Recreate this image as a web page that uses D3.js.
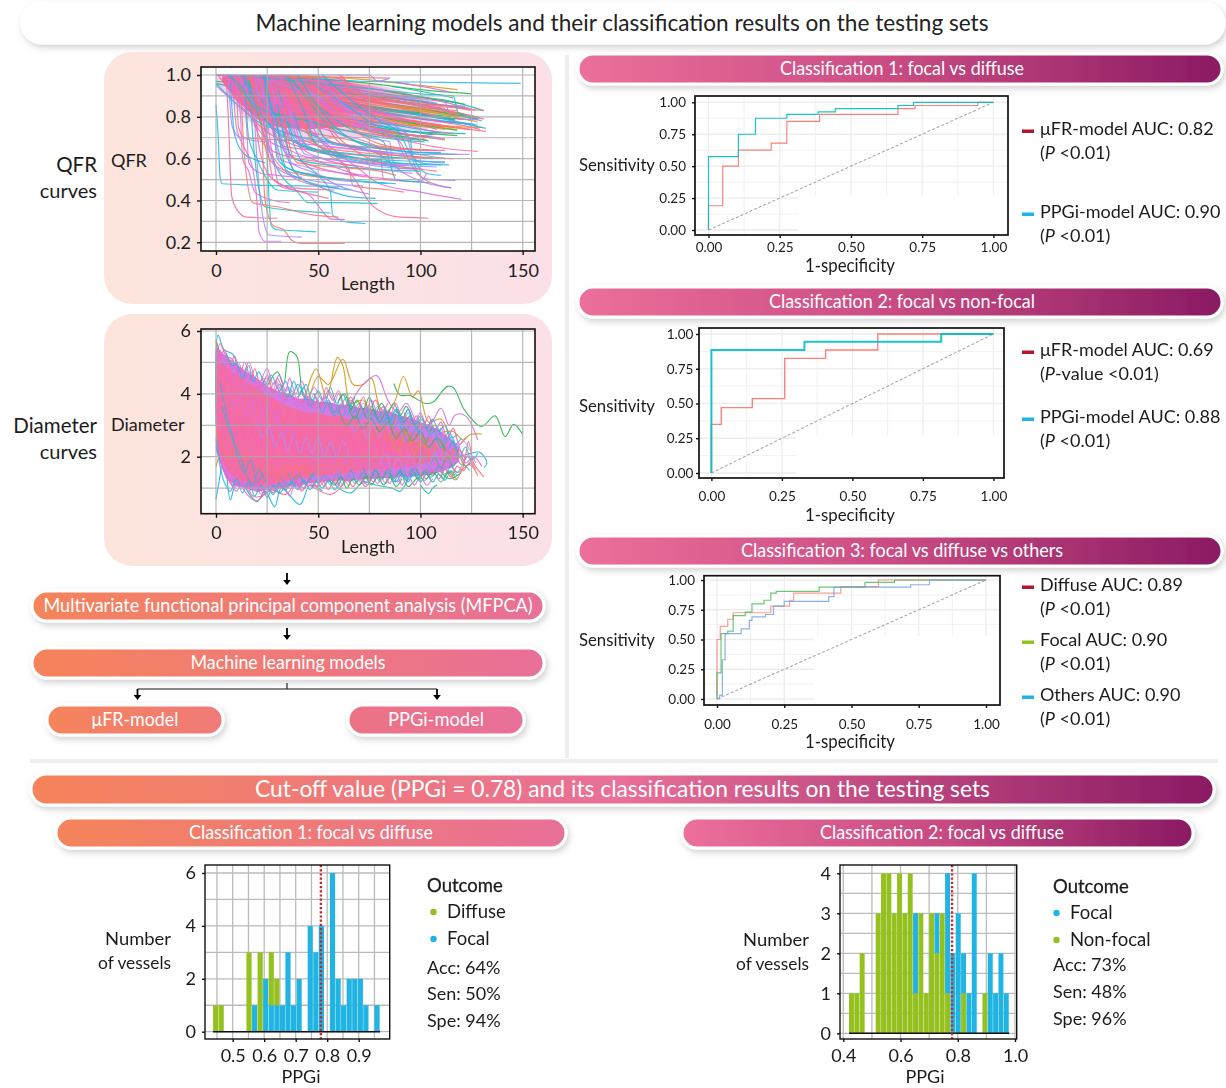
<!DOCTYPE html>
<html><head><meta charset="utf-8">
<script src="https://cdn.jsdelivr.net/npm/d3@7"></script>
<style>html,body{margin:0;padding:0;background:#fff}svg{display:block}text{font-family:Lato,"Open Sans",sans-serif;fill:#1c1c1c}</style>
</head><body><svg id="c" width="1226" height="1088"></svg>
<script>
// ---------- colours of the curve bundles
const warmHues = ["#F8766D","#D89B1E","#2DB84D","#10BFB0","#D96FE0","#22B5EA","#F5689E"];
const dropHues = ["#22B5EA","#F5689E","#D96FE0","#1ABFC9","#F8766D","#A58AFF"];
const pinkHues = ["#F5689E","#D96FE0","#FB61B7","#F8766D","#B98AF0"];
const speckHues= ["#1ABFC9","#22B5EA","#2DB84D","#D96FE0","#D89B1E"];
const edgeHues = ["#F5689E","#22B5EA","#D96FE0","#1ABFC9","#F5689E","#2DB84D","#D96FE0","#22B5EA"];
const midHues  = ["#D96FE0","#D96FE0","#F5689E","#D96FE0","#22B5EA","#1ABFC9","#2DB84D","#22B5EA","#A58AFF","#F5689E","#F5689E","#D96FE0","#22B5EA","#D96FE0","#1ABFC9","#2DB84D","#22B5EA","#D96FE0","#2DB84D"];
const outlierHues = ["#2DB84D","#2DB84D","#D89B1E","#D89B1E","#D96FE0","#D89B1E","#D96FE0","#D89B1E","#22B5EA","#10BFB0","#F8766D","#22B5EA","#F5689E","#2DB84D","#22B5EA","#22B5EA","#F5689E","#D89B1E","#F5689E","#1ABFC9","#2DB84D","#F8766D","#D96FE0"];
// ---------- QFR curves, flat x,y lists
const qfrRight = [
[0,1,60,.99,85,.985],[30,1,70,.98,100,.95,118,.93],[40,.99,75,.96,100,.93,125,.91],
[20,.98,60,.94,90,.9,112,.88,131,.83],[10,.98,50,.93,90,.87,122,.85],[25,.97,65,.92,95,.86,128,.8],
[15,.96,55,.91,85,.86,118,.83],[5,.97,45,.92,80,.87,110,.82,131,.79],[30,.95,60,.9,88,.85,122,.81],
[35,.93,70,.88,100,.84,126,.79],[20,.92,55,.88,90,.83,115,.8],[12,.93,50,.87,85,.81,122,.77],
[28,.9,60,.85,95,.8,128,.76],[18,.9,55,.84,92,.78,125,.74],[30,.88,70,.82,100,.77,132,.73],
[25,.86,60,.81,92,.76,130,.75],[20,.85,55,.79,85,.74,118,.71],[35,.84,65,.79,95,.73,122,.72],
[25,.82,60,.77,90,.72,105,.7],[15,.84,50,.78,80,.73,110,.7],[40,.8,70,.75,100,.71,108,.72],
[30,.79,60,.74,90,.7,103,.69],[50,.78,75,.73,100,.69,102,.7],[45,.9,70,.86,95,.82,116,.79],
[50,.95,75,.91,100,.87,124,.84],[60,.96,85,.92,108,.88,127,.83],[55,.93,80,.89,105,.85,130,.78],
[65,.92,85,.86,105,.81,125,.76],[70,.9,90,.84,110,.8,120,.79],[60,.88,80,.8,100,.76,118,.74],
[0,.97,18,.95,42,.93,75,.9,104,.87],[0,.96,14,.93,38,.9,70,.85,100,.82],[0,.95,6,.9,20,.87,58,.83,96,.78],
[40,.94,65,.915,90,.89,108,.865],[45,.92,68,.895,92,.865,112,.84],[50,.91,72,.875,95,.845,120,.815],
[55,.895,76,.86,98,.83,121,.80],[48,.87,70,.845,94,.815,117,.785],[58,.875,80,.84,102,.805,124,.785],
[52,.85,74,.825,96,.795,116,.77],[62,.855,84,.82,104,.785,126,.765],[56,.83,78,.805,100,.775,114,.755],
[66,.835,86,.8,106,.765,120,.75],[60,.81,82,.785,100,.755,112,.74],[70,.815,90,.78,108,.75,118,.735],
[64,.79,84,.765,100,.74,110,.725],[74,.795,92,.76,104,.735,116,.72],[68,.77,86,.75,98,.725,106,.715],
[78,.905,96,.875,114,.85,125,.83],[80,.885,98,.855,116,.825,129,.795],[76,.87,94,.84,112,.81,128,.775],
[82,.925,100,.895,112,.875,122,.86],[86,.945,104,.915,116,.89],[88,.965,104,.94,114,.92],
[90,.825,106,.8,118,.775,132,.745],[94,.805,108,.78,120,.76,129,.74],[96,.785,106,.76,112,.745],
[72,.74,88,.72,100,.705,112,.695],[78,.725,92,.705,100,.69],[84,.71,98,.695,104,.685]
];
const qfrCurves = [
[0,.857,1,.72,2,.51,3,.48,17,.474,40,.47,62,.468],
[5,.99,6,.8,7.7,.42,10,.36,15,.32,30,.315],
[8,.99,10,.75,14,.65,18,.55,20,.4,21,.25,24,.205,32,.205],
[24,.95,25.5,.5,27,.28,30,.26,40,.255,49,.25],
[22,.9,24,.4,28,.28,33,.26,37,.21,41,.195,63,.195],
[18,.95,20,.6,22,.38,26,.235,42,.225],
[30,.95,40,.62,50,.52,56,.44,57,.33,65,.295,73,.29],
[20,.95,50,.7,68,.5,76,.38,82,.34,90,.32,104,.315],
[12,.97,50,.7,70,.55,80,.48,100,.44,120,.405],
[16,.97,30,.55,40,.44,45,.39,60,.39,79,.385],
[20,.98,60,.8,90,.68,95,.58,102,.5,115,.46],
[25,.98,70,.82,93,.72,96,.6,102,.505,117,.495],
[0,1,40,.985,70,.97,110,.965,130,.962,149,.96],
[15,.98,60,.8,80,.72,100,.67,115,.645,128,.635],
[5,1,30,.98,60,.95,85,.90,105,.88,112,.87,114,.82,119,.79,128,.785],
[8,1,40,.97,70,.94,100,.91,116,.9,118.5,.82,128,.79],
[0,1,30,.99,62,.985,66,.92,85,.88,110,.85,131,.83],
[0,1,40,1,75,1,79,.97,85,.985],
[14,.99,25,.85,50,.7,80,.62,85,.58,95,.555,99,.555],
[18,.99,30,.78,50,.66,70,.6,85,.57,90,.555,101,.55],
[28,.99,40,.8,60,.72,80,.65,82,.5,100,.49,103,.53],
[35,.99,50,.85,70,.72,82,.68,85,.58,88,.5,104,.485],
[32,.98,45,.72,55,.62,65,.55,67,.47,85,.45,92,.44],
[26,.98,34,.7,38,.54,50,.52,60,.47,75,.43],
[24,.98,33,.65,40,.52,52,.46,65,.42,78,.41],
[15,.99,18,.8,27,.62,35,.53,45,.48,60,.46],
[12,.99,15,.75,16,.58,22,.53,30,.52,42,.51],
[14,.98,16,.7,20,.6,25,.5,30,.45,50,.44],
[10,.98,11,.75,14,.7,30,.69,55,.68],
[6,.98,8,.75,12,.7,25,.68],
[7,.96,9,.72,14,.62,18,.6,24,.58],
[20,.99,26,.6,28,.5,38,.46,58,.45],
[22,.99,28,.6,31,.47,45,.43,57,.31,63,.31],
[16,.98,19,.6,24,.37,40,.35,56,.34],
[12,.97,14,.6,18,.39,30,.37,48,.33,60,.32],
[40,.97,55,.85,75,.7,85,.68,86,.6,92,.53,115,.46],
[45,.97,60,.88,80,.75,95,.7,96,.62,103,.53,110,.52],
[60,1,63,.98,65,.9,80,.82,95,.78,108,.74],
[5,1,25,.89,55,.8,80,.74,98,.71,112,.69],
[7,1,20,.85,45,.78,70,.72,90,.69,102,.68],
[9,1,22,.8,40,.74,65,.69,80,.66,108,.64],
[11,1,24,.78,42,.7,70,.65,90,.62,105,.6],
[13,1,26,.76,38,.68,60,.62,85,.58,110,.57],
[58,.99,72,.9,78,.75,90,.72,109,.7],
[48,.98,66,.8,75,.73,86,.7,100,.69],
[38,.98,55,.76,70,.68,88,.64,112,.6],
[42,.96,60,.7,75,.6,92,.56,108,.54],
[28,.97,40,.7,56,.62,70,.58,82,.56,97,.55],
[0,.96,8,.88,20,.78,35,.72,60,.67,85,.62],
[1,1,7,.92,15,.82,26,.72,40,.66,56,.62,78,.58],
[3,1,9,.95,17,.8,24,.7,36,.64,52,.58,70,.52],
[5,1,11,.96,19,.84,29,.74,44,.66,64,.6,88,.56],
[16,1,22,.78,25,.62,30,.56,44,.52,66,.5],
[19,1,24,.74,28,.58,34,.53,50,.49,72,.47],
[23,1,28,.76,30,.6,36,.55,54,.51,84,.48],
[27,1,33,.78,36,.62,46,.57,62,.53,90,.5],
[31,1,38,.8,42,.65,52,.6,72,.56,96,.53],
[34,1,44,.8,48,.68,60,.62,80,.59,101,.57],
[37,1,48,.82,53,.7,68,.65,84,.62,106,.6],
[20,1,32,.7,37,.58,46,.54,58,.5,70,.49],
[24,1,30,.66,34,.55,42,.5,52,.47,66,.45],
[18,1,21,.66,26,.52,33,.47,46,.43,55,.41],
[9,1,12,.8,13,.6,16,.54,19,.44,28,.4,36,.39],
[40,1,52,.82,62,.72,74,.66,98,.63,118,.62],
[44,1,58,.84,70,.72,84,.66,104,.64],
[50,1,62,.86,72,.76,88,.7,93,.6,112,.58],
[52,1,66,.88,80,.78,90,.72,94,.64,100,.58,114,.57],
[25,.9,29,.72,33,.66,48,.64,66,.62,90,.6],
[28,.88,31,.7,35,.62,52,.6,70,.58,94,.57],
[30,.86,34,.68,38,.6,55,.57,76,.55,100,.54],
[33,.84,36,.66,40,.58,58,.56,80,.54,88,.52],
[36,.83,40,.68,44,.62,62,.59,86,.57,108,.56],
[38,.82,42,.7,46,.64,64,.61,90,.59,112,.585],
[22,.86,25,.7,27,.64,40,.6,56,.58,72,.56],
[26,.84,29,.67,31,.6,44,.56,62,.53,74,.52],
[29,.82,32,.64,34,.56,48,.52,64,.5,88,.48],
[42,.8,46,.7,50,.66,70,.63,96,.61,116,.6],
[46,.79,50,.7,54,.66,74,.64,100,.62,124,.62],
[48,.78,53,.7,58,.67,78,.65,102,.63,110,.63],
[54,.77,58,.7,62,.67,82,.65,104,.64,112,.64],
[32,.8,35,.72,38,.68,54,.66,72,.64,84,.63],
[35,.78,38,.7,42,.66,60,.63,82,.61,96,.6]
];
const qfrCoreTop= [[0,1],[10,1],[30,1],[50,.995],[70,.97],[90,.93],[110,.86]];
const qfrCoreLow= [[0,.96],[5,.9],[10,.84],[20,.74],[30,.7],[50,.69],[70,.7],[90,.71],[110,.76]];
const qfrPinkTop= [[3,1],[30,1],[50,.985],[75,.95],[100,.9]];
const qfrPinkLow= [[3,.97],[10,.88],[20,.79],[30,.75],[45,.74],[60,.75],[80,.76],[100,.78]];
// ---------- density outlines of the diameter bundle
const diaPurpleTop=[[0,5.5],[5,5.2],[10,4.95],[15,4.7],[20,4.5],[25,4.25],[30,4.1],[35,4.0],[40,3.85],[45,3.85],[50,3.75],[55,3.75],[60,3.65],[65,3.65],[70,3.55],[75,3.55],[80,3.45],[85,3.45],[90,3.3],[95,3.25],[100,3.1],[105,3.0],[110,2.8],[115,2.55],[119,2.3]];
const diaPurpleLow=[[0,2.2],[3,1.6],[5,1.3],[10,1.05],[15,1.0],[20,.88],[25,.95],[30,.95],[35,1.05],[40,1.05],[45,1.15],[50,1.2],[55,1.2],[60,1.25],[65,1.22],[70,1.28],[75,1.28],[80,1.32],[85,1.32],[90,1.37],[95,1.35],[100,1.4],[105,1.42],[110,1.52],[115,1.65],[119,1.85]];
const diaPinkTop=[[0,5.2],[5,4.9],[10,4.6],[15,4.35],[20,4.2],[25,3.95],[30,3.8],[35,3.6],[40,3.5],[45,3.4],[50,3.4],[55,3.3],[60,3.3],[65,3.2],[70,3.15],[75,3.1],[80,3.0],[85,2.95],[90,2.9],[95,2.8],[100,2.7],[105,2.55]];
const diaPinkLow=[[0,2.5],[3,1.9],[5,1.6],[10,1.3],[15,1.2],[20,1.05],[25,1.12],[30,1.15],[35,1.25],[40,1.3],[45,1.38],[50,1.4],[55,1.42],[60,1.45],[65,1.52],[70,1.55],[75,1.58],[80,1.6],[85,1.62],[90,1.65],[95,1.7],[100,1.75],[105,1.85]];
// ---------- diameter curves, flat x,y lists
const diaOutliers = [
[87,4.33,90,3.96,95,3.95,102,3.7,106,3.73,113,4.23,116,4.2,121,3.54,125,3.2,130,2.96,136.5,3.3,141.4,2.64,145.5,3.03,150,2.71],
[24,4.1,30,4.7,33,4.3,36,5.34,39.5,5.2,43,3.9,47,3.8],
[42,3.5,49,4.8,54,3.9,59.4,5.16,62,4.9,66,3.7,72,3.8,75,3.2],
[44,3.4,50,4.55,55,4.3,62,5.1,67,4.3,72,4.3,76,4.5,80,3.6,88,3.0],
[65,3.6,72,4.3,78.6,4.58,84,3.8,89,3.4,93,3.7,98,3.0],
[80,3.2,87,3.7,91.7,4.55,96,3.9,99,4.1,104,3.1,110,3.2,114,2.6],
[95,3.2,104,3.0,110,3.54,114,3.0,117,3.33,122,3.3,128,2.53],
[105,2.6,112,2.8,116,2.8,121,2.53,124,2.7,130,2.72],
[105,2.3,112,2.2,118,2.0,124,2.1,129,2.14,132.5,1.8,131,1.65],
[100,1.1,104,.83,106,1.0,108,1.1],
[108,1.8,114,1.5,117,1.26,121,1.7,123.5,2.48,126,1.8,131,1.36],
[0,3,1,5.87,4,5.4,8.5,5.24,12,4.2,18,3.2],
[0,4,2,5.6,5,5.2,8,5.1,12,4.4,16,5.0,20,4.0],
[0,5.7,1,5.5,4,4.6,8,3.2,12,2.2],
[0,.65,2,1.4,4,2.2,7,.62,10,1.2,14,1.0],
[12,1.3,20,.57,24,.9,28.7,.41,32,1.0,41,.48,46,1.1,52,.9],
[8,2.0,14,.9,20,.6,26,.95,34,.8,40,1.2,56,.8,62,1.1],
[0,1.68,3,2.2,5,1.9,10,2.9],
[0,2.3,4,1.6,8,1.1,12,1.6,18,.75,24,.8,30,1.3],
[55,1.4,60,1.0,66,.85,72,1.2,78,1.1,86,1.0,90,.9,94,1.3],
[90,1.7,94,1.05,98,1.3,103,1.5,108,1.6,114,1.3,120,1.5],
[100,2.0,106,1.6,112,1.9,118,1.5,124,1.75,128,1.4],
[100,2.8,106,2.4,110,2.9,114,2.1,118,2.4,122,1.8,126,2.0,130,1.7]
];
const diaEdges = [
[0,5.7,2,5.1,4,5.4,7,4.9,9,5.2,12,4.7,14,5.0,17,4.5,19,4.8,22,4.2,25,4.6,28,4.1,30,4.5,33,4.0],
[5,5.3,8,4.9,10,5.0,13,4.5,16,4.9,18,4.4,21,4.7,24,4.3,27,4.6,31,4.1,34,4.4,37,3.9,40,4.3,44,3.8],
[22,4.4,25,4.8,28,4.3,31,4.6,34,4.1,36,4.5,39,4.0,42,4.4,45,3.9,48,4.2,52,3.8,55,4.1,58,3.7],
[32,4.3,35,3.9,38,4.4,41,4.0,44,4.3,47,3.8,50,4.1,53,3.7,56,4.2,59,3.7,62,4.0,65,3.6,68,3.9],
[48,4.0,51,3.6,54,4.2,57,3.8,60,4.1,63,3.6,66,3.9,69,3.5,72,3.9,75,3.5,78,3.8,81,3.4,84,3.7],
[60,3.8,63,4.0,66,3.5,69,3.8,72,3.5,75,3.9,78,3.4,81,3.7,84,3.4,87,3.7,90,3.3,93,3.6,96,3.2],
[70,3.7,73,3.4,76,3.8,79,3.4,82,3.6,85,3.3,88,3.7,91,3.2,94,3.5,97,3.1,100,3.4,103,3.0,106,3.2],
[82,3.6,85,3.2,88,3.5,91,3.2,94,3.5,97,3.0,100,3.3,103,2.9,106,3.2,109,2.8,112,3.0,115,2.6,118,2.7],
[92,3.4,95,3.0,98,3.3,101,2.9,104,3.3,107,2.8,110,3.1,113,2.6,116,2.9,119,2.4,122,2.6],
[0,2.6,2,1.7,4,1.2,7,.9,10,1.3,13,.85,16,1.2,19,.75,22,1.1,25,.7,28,1.1,31,.85,34,1.1],
[4,1.6,7,1.2,10,.9,13,1.2,16,.9,19,1.15,22,.8,25,1.05,28,.85,32,1.2,36,.75,39,1.15,42,.9,45,1.2],
[25,1.1,28,.8,31,1.15,34,.95,37,1.2,40,.95,43,1.25,46,.95,49,1.2,52,1.0,55,1.25,58,.95,61,1.2],
[40,1.25,43,1.0,46,1.3,49,1.05,52,1.25,55,.95,58,1.3,61,1.05,64,1.3,67,1.05,70,1.3,73,1.05,76,1.3],
[55,1.3,58,1.1,61,1.35,64,1.0,67,1.3,70,1.1,73,1.35,76,1.1,79,1.35,82,1.1,85,1.35,88,1.05,91,1.3],
[70,1.4,73,1.15,76,1.4,79,1.15,82,1.4,85,1.15,88,1.45,91,1.1,94,1.4,97,1.1,100,1.35,103,1.1,106,1.3],
[85,1.45,88,1.2,91,1.45,94,1.2,97,1.5,100,1.2,103,1.45,106,1.2,109,1.45,112,1.25,115,1.55,118,1.4],
[100,1.5,103,1.3,106,1.55,109,1.3,112,1.6,115,1.35,118,1.7,121,1.55,124,1.8,127,1.6],
[110,2.5,113,2.2,116,2.5,119,2.0,122,2.3,125,1.9,128,2.1],
[108,1.7,111,2.0,114,1.7,117,2.0,120,1.75,123,2.0,126,1.7]
];
const diaMid = [
[0,5.2,3,4.9,6,5.1,9,4.6,12,4.8,15,4.3,18,4.6,21,4.1,24,4.4,27,3.9,30,4.2,33,3.7,36,4.0,40,3.6,44,3.9,48,3.4],
[2,5.4,5,5.0,8,4.8,11,5.0,14,4.5,17,4.7,20,4.2,23,4.5,26,4.1,29,4.4,32,3.9,35,4.2,38,3.8,42,4.0,46,3.6,50,3.8],
[10,4.8,13,4.4,16,4.6,19,4.0,22,4.3,25,4.5,28,4.0,31,4.3,34,3.8,37,4.1,41,3.7,45,3.9,49,3.5,53,3.9,57,3.4,61,3.7],
[30,4.4,33,4.0,36,4.2,39,3.7,42,4.1,45,3.6,48,4.0,51,3.5,54,3.9,57,3.6,60,4.0,63,3.5,66,3.8,69,3.4,72,3.7,75,3.3],
[40,3.9,43,4.2,46,3.6,49,3.9,52,3.4,55,3.8,58,3.4,61,3.9,64,3.3,67,3.7,70,3.2,73,3.6,76,3.2,79,3.6,82,3.1,85,3.5],
[55,3.7,58,3.3,61,3.6,64,3.9,67,3.4,70,3.7,73,3.3,76,3.6,79,3.2,82,3.5,85,3.1,88,3.5,91,3.0,94,3.4,97,3.0,100,3.2],
[65,3.5,68,3.2,71,3.6,74,3.2,77,3.5,80,3.1,83,3.4,86,3.0,89,3.5,92,3.1,95,3.3,98,2.9,101,3.2,104,2.8,107,3.0,110,2.7],
[78,3.3,81,3.0,84,3.3,87,2.9,90,3.2,93,2.8,96,3.2,99,2.8,102,3.0,105,2.7,108,2.9,111,2.5,114,2.8,117,2.4,120,2.6],
[85,3.1,88,2.7,91,3.1,94,2.7,97,3.0,100,2.6,103,2.9,106,2.5,109,2.8,112,2.4,115,2.7,118,2.3,121,2.5,124,2.2],
[0,2.5,3,1.7,6,1.3,9,1.0,12,1.4,15,1.0,18,1.3,21,.9,24,1.25,27,.95,30,1.3,33,.95,36,1.3,40,1.0,44,1.35,48,1.0],
[5,1.8,8,1.3,11,1.1,14,1.4,17,.95,20,1.25,23,.85,26,1.2,29,.9,32,1.2,35,1.0,38,1.3,42,.95,46,1.3,50,1.05,54,1.35],
[20,1.4,23,1.0,26,1.3,29,1.05,32,1.4,35,1.05,38,1.35,41,1.0,44,1.35,47,1.05,50,1.3,53,1.05,56,1.35,59,1.1,62,1.3,65,1.05],
[35,1.5,38,1.15,41,1.4,44,1.1,47,1.45,50,1.15,53,1.4,56,1.1,59,1.45,62,1.1,65,1.4,68,1.15,71,1.4,74,1.1,77,1.4,80,1.2],
[50,1.55,53,1.2,56,1.5,59,1.15,62,1.45,65,1.2,68,1.5,71,1.15,74,1.45,77,1.2,80,1.45,83,1.15,86,1.4,89,1.2,92,1.45,95,1.2],
[60,1.6,63,1.25,66,1.55,69,1.2,72,1.5,75,1.25,78,1.55,81,1.25,84,1.5,87,1.2,90,1.5,93,1.25,96,1.45,99,1.3,102,1.5,105,1.25],
[72,1.65,75,1.3,78,1.6,81,1.3,84,1.6,87,1.3,90,1.55,93,1.3,96,1.6,99,1.25,102,1.55,105,1.35,108,1.5,111,1.3,114,1.55,117,1.4],
[85,1.7,88,1.35,91,1.65,94,1.3,97,1.65,100,1.35,103,1.6,106,1.4,109,1.7,112,1.45,115,1.7,118,1.5,121,1.75,124,1.55],
[100,2.4,103,2.1,106,2.5,109,2.1,112,2.4,115,2.0,118,2.2,121,1.9,124,2.1,127,1.8],
[98,1.8,101,2.1,104,1.7,107,2.0,110,1.6,113,2.0,116,1.7,119,2.0,122,1.7,125,1.9]
];
const diaBlob = [
[0,4.6,3,4.2,6,4.5,9,3.9,12,4.2,15,3.7,18,4.0,21,3.5,24,3.8,27,3.3,30,3.6,33,3.1,36,3.4,39,3.0,42,3.3,45,2.9],
[0,5.3,2,4.9,4,5.0,6,4.4,8,4.6,11,4.0,14,4.3,17,3.6,20,3.9,23,3.4,26,3.7,29,3.2,32,3.5],
[0,3.6,3,3.0,6,3.5,9,2.6,12,3.1,15,2.4,18,2.9,21,2.2,24,2.7,27,2.0,30,2.6,33,2.0,36,2.5,39,1.9,42,2.4,45,1.9],
[0,3.0,3,2.4,6,1.9,9,2.3,12,1.6,15,2.1,18,1.4,21,1.8,24,1.3,27,1.7,30,1.2,33,1.7,36,1.3,39,1.8,42,1.35,45,1.8],
[20,3.1,23,2.6,26,3.0,29,2.3,32,2.8,35,2.2,38,2.7,41,2.1,44,2.6,47,2.1,50,2.6,53,2.0,56,2.5,59,2.0,62,2.5,65,2.0],
[40,3.4,43,2.9,46,3.3,49,2.7,52,3.2,55,2.6,58,3.1,61,2.6,64,3.0,67,2.5,70,2.9,73,2.4,76,2.9,79,2.3,82,2.8,85,2.3],
[45,2.2,48,1.7,51,2.2,54,1.6,57,2.1,60,1.55,63,2.0,66,1.6,69,2.1,72,1.55,75,2.0,78,1.6,81,2.0,84,1.6,87,2.1,90,1.6],
[60,2.6,63,2.2,66,2.6,69,2.0,72,2.5,75,2.0,78,2.5,81,1.9,84,2.4,87,2.0,90,2.5,93,1.9,96,2.4,99,2.0,102,2.3,105,2.0],
[75,3.0,78,2.6,81,3.0,84,2.5,87,2.9,90,2.4,93,2.9,96,2.4,99,2.7,102,2.3,105,2.6,108,2.2,111,2.5,114,2.1,117,2.3],
[80,1.7,83,2.1,86,1.6,89,2.0,92,1.6,95,2.1,98,1.7,101,2.1,104,1.7,107,2.1,110,1.8,113,2.1,116,1.8,119,2.0],
[10,3.4,13,2.8,16,3.3,19,2.6,22,3.1,25,2.5,28,3.0,31,2.4,34,2.9,37,2.3,40,2.8,43,2.3,46,2.7],
[6,4.2,9,3.6,12,3.9,15,3.2,18,3.6,21,2.9,24,3.4,27,2.7,30,3.2,33,2.6,36,3.0,39,2.5],
[3,2.1,6,1.6,9,1.4,12,1.9,15,1.25,18,1.6,21,1.15,24,1.5,27,1.1,30,1.55,33,1.15,36,1.6,39,1.2,42,1.6],
[30,1.6,33,1.25,36,1.7,39,1.3,42,1.7,45,1.35,48,1.8,51,1.4,54,1.8,57,1.45,60,1.85,63,1.45,66,1.8,69,1.45],
[65,3.2,68,2.8,71,3.1,74,2.6,77,3.0,80,2.6,83,3.1,86,2.6,89,3.0,92,2.5,95,2.9,98,2.5,101,2.8,104,2.4,107,2.7,110,2.3],
[95,2.2,98,1.8,101,2.3,104,1.9,107,2.4,110,1.9,113,2.3,116,1.9,119,2.2,122,1.9]
];
const diaSpeck = [
[3,3.6,6,2.9,9,2.4,12,2.0,15,1.4,18,1.1,21,1.6,24,1.2],
[2,4.4,5,3.4,8,2.7,11,1.9,14,1.5,17,1.9,20,1.2,23,1.5],
[60,3.5,64,3.0,68,3.3,72,2.9,76,3.2,80,2.8,84,3.1,88,2.6,92,2.9,96,2.5,100,2.8,104,2.3,108,2.6,112,2.2],
[55,1.25,59,1.6,63,1.3,67,1.65,71,1.3,75,1.7,79,1.35,83,1.75,87,1.4,91,1.7,95,1.4,99,1.75,103,1.45,107,1.8,111,1.45],
[85,2.7,89,2.2,93,2.8,97,2.1,101,2.6,105,2.0,109,2.5,113,1.9,117,2.2,121,1.7],
[90,3.0,94,2.5,98,2.9,102,2.4,106,2.9,110,2.3,114,2.6,118,2.1],
[32,1.3,36,1.1,40,1.45,44,1.15,48,1.5],
[98,1.6,102,1.25,106,1.5,110,1.2,114,1.5,118,1.25]
];
// ---------- ROC step curves: [1-specificity, sensitivity] corners
const roc1Fr = [[0,0],[0,.19],[.05,.5],[.105,.625],[.22,.68],[.275,.85],[.39,.905],[.665,.95],[.725,.975],[.945,1],[1,1]];
const roc1Pp = [[0,0],[0,.575],[.105,.75],[.165,.875],[.275,.905],[.385,.925],[.445,.95],[.665,.975],[.72,1],[1,1]];
const roc2Fr = [[0,0],[0,.35],[.035,.47],[.145,.535],[.26,.825],[.405,.885],[.59,1],[1,1]];
const roc2Pp = [[0,0],[0,.885],[.33,.945],[.815,1],[1,1]];
const roc3Di = [[0,0],[0,.5],[.012,.61],[.04,.67],[.06,.725],[.2,.78],[.27,.83],[.285,.89],[.46,.945],[.6,1],[1,1]];
const roc3Fo = [[0,0],[0,.22],[.015,.55],[.04,.57],[.06,.7],[.105,.73],[.13,.8],[.175,.83],[.2,.89],[.22,.905],[.38,.94],[.55,.98],[.66,1],[1,1]];
const roc3Ot = [[0,0],[.01,.03],[.02,.33],[.03,.55],[.09,.59],[.12,.66],[.13,.69],[.18,.71],[.21,.78],[.25,.82],[.415,.86],[.435,.94],[.72,.96],[.79,1],[1,1]];
const rocTicks = [0,.25,.5,.75,1];
// ---------- histogram counts per bin
const hist1Diffuse = [1,1,0,0,0,0,3,0,3,0,2,1,0,0,0,0,0,0,0,0,0,0,0,0,0,0,0,0,0,0];
const hist1Focal   = [0,0,0,0,0,0,0,1,0,2,1,1,1,3,1,2,0,4,3,4,0,6,2,1,2,2,2,1,0,1];
const hist2Focal   = [0,0,0,0,0,0,0,0,0,0,0,0,2,0,0,0,1,0,3,2,3,1,1,4,0,0,2,1,2,1];
const hist2Other   = [1,1,2,0,0,3,4,4,3,4,3,4,1,3,1,3,2,3,1,0,0,1,0,0,0,1,0,0,0,0];
const cutOff = 0.78;

const svg = d3.select("#c");
const defs = svg.append("defs");
const f = defs.append("filter").attr("id","sh").attr("x","-5%").attr("y","-30%").attr("width","110%").attr("height","170%");
f.append("feDropShadow").attr("dx",2).attr("dy",3).attr("stdDeviation",3).attr("flood-color","#000").attr("flood-opacity",.18);
const blur = defs.append("filter").attr("id","soft").attr("x","-5%").attr("y","-5%").attr("width","110%").attr("height","110%");
blur.append("feGaussianBlur").attr("stdDeviation",.45);
const fade = defs.append("linearGradient").attr("id","fadePink");
[[0,1],[.55,.95],[.8,.45],[1,0]].forEach(([o,a])=>fade.append("stop").attr("offset",o).attr("stop-color","#f5689e").attr("stop-opacity",a));

function grad(id,stops){
  const g=defs.append("linearGradient").attr("id",id);
  stops.forEach((c,i)=>g.append("stop").attr("offset",i/(stops.length-1)).attr("stop-color",c));
  return `url(#${id})`;
}
const OR="#f5845a",PK="#e96f98",PU="#8a1a63";
function txt(x,y,s,o={}){
  const t=svg.append("text").attr("x",x).attr("y",y).attr("font-size",o.size||18)
    .attr("text-anchor",o.anchor||"start").style("fill",o.fill||"#1c1c1c");
  if(o.len) t.attr("textLength",o.len).attr("lengthAdjust","spacingAndGlyphs");
  t.text(s);
  return t;
}
function pill(x,y,w,h,fill,s,o={}){
  svg.append("rect").attr("x",x).attr("y",y).attr("width",w).attr("height",h).attr("rx",h/2)
    .attr("fill",fill).attr("stroke",o.stroke||"#fff").attr("stroke-width",3).attr("filter","url(#sh)");
  txt(x+w/2+(o.dx||0),y+h/2+(o.size||19)*.34,s,{size:o.size||19,anchor:"middle",fill:o.fill||"#fff",len:o.len});
}
// separators
svg.append("rect").attr("x",565).attr("y",55).attr("width",4).attr("height",703).attr("fill","#efefef");
svg.append("rect").attr("x",30).attr("y",759).attr("width",1188).attr("height",4).attr("fill","#efefef");
// pills
pill(22,3,1202,40,"#fff","Machine learning models and their classification results on the testing sets",{fill:"#222",size:23,len:733,dx:-1});
const gRight=grad("gr",["#ec6f9c","#c94b82","#8a1a63"]);
pill(578,54,644,30,gRight,"Classification 1: focal vs diffuse",{len:244,dx:2});
pill(578,287,644,30,gRight,"Classification 2: focal vs non-focal",{len:266,dx:2});
pill(578,536,644,30,gRight,"Classification 3: focal vs diffuse vs others",{len:322,dx:2});
const gLeft=grad("gl",[OR,PK]);
pill(32,591,512,30,gLeft,"Multivariate functional principal component analysis (MFPCA)",{len:489,size:18.5});
pill(32,648,512,30,gLeft,"Machine learning models",{len:195,size:18.5});
pill(47,705,176,30,grad("g3",[OR,"#f07a78"]),"μFR-model",{len:87,size:18.5});
pill(348,705,176,30,grad("g4",["#ec7385",PK]),"PPGi-model",{len:96,size:18.5});
pill(31,774,1183,31,grad("g5",[OR,PK,PU]),"Cut-off value (PPGi = 0.78) and its classification results on the testing sets",{len:735,size:23});
pill(56,818,510,30,gLeft,"Classification 1: focal vs diffuse",{len:244});
pill(682,818,511,30,gRight,"Classification 2: focal vs diffuse",{len:244,dx:4.5});
// arrows
function arrow(x,y1,y2){
  svg.append("path").attr("d",d3.line()([[x,y1],[x,y2-5]])).attr("stroke","#000").attr("stroke-width",1.8);
  svg.append("path").attr("d",d3.line()([[x-3.8,y2-5],[x+3.8,y2-5],[x,y2]])+"Z").attr("fill","#000");
}
arrow(287,573,585);arrow(287,628,640);arrow(137.5,689,700);arrow(437,689,700);
svg.append("path").attr("d","M287 683V689M137.5 689H437").attr("fill","none").attr("stroke","#111").attr("stroke-width",1.1);
// curve panels
const gp=grad("gp",["#fde5dd","#fbe0e7"]);
[[52],[314]].forEach(([y])=>svg.append("rect").attr("x",104).attr("y",y).attr("width",448).attr("height",252).attr("rx",28).attr("fill",gp));
txt(97,172,"QFR",{size:20.5,anchor:"end"});txt(97,198,"curves",{size:20,anchor:"end"});
txt(97,433,"Diameter",{size:20.5,anchor:"end"});txt(97,459,"curves",{size:20,anchor:"end"});
txt(111,167,"QFR",{size:18});txt(111,431,"Diameter",{size:18});

function frame(g,x0,y0,x1,y1,w){
  g.append("rect").attr("x",x0).attr("y",y0).attr("width",x1-x0).attr("height",y1-y0).attr("fill","none").attr("stroke","#111").attr("stroke-width",w||1.6);
}
function axes(g,x,y,xt,yt,bottom,left,o){
  const xa=g.append("g").attr("transform",`translate(0,${bottom})`).call(d3.axisBottom(x).tickValues(xt).tickSize(o.ts).tickPadding(o.xp).tickFormat(o.xf));
  const ya=g.append("g").attr("transform",`translate(${left},0)`).call(d3.axisLeft(y).tickValues(yt).tickSize(o.ts).tickPadding(o.yp).tickFormat(o.yf));
  [xa,ya].forEach(a=>{a.select(".domain").remove();a.selectAll("text").attr("font-size",o.fs).style("font-family","Lato").style("fill","#1c1c1c");
    a.selectAll("line").attr("stroke","#111").attr("stroke-width",o.tw||1.4);});
}
function curvePlot(o){
  const g=svg.append("g");
  g.append("rect").attr("x",o.x0).attr("y",o.y0).attr("width",o.x1-o.x0).attr("height",o.y1-o.y0).attr("fill","#fff");
  const x=d3.scaleLinear().domain([0,150]).range(o.xr), y=d3.scaleLinear().domain(o.yd).range(o.yr);
  const layer=g.append("g").attr("filter","url(#soft)");
  o.layers.forEach(l=>{
    if(l.top){
      const ring=l.top.concat(l.low.slice().reverse());
      layer.append("path").attr("d",d3.line().x(d=>x(d[0])).y(d=>y(d[1])).curve(d3.curveLinearClosed)(ring))
        .attr("fill",l.color).attr("opacity",l.op);
    } else l.data.forEach((c,i)=>{
      const pts=d3.pairs(c).filter((_,k)=>k%2===0);
      layer.append("path").attr("d",d3.line().x(d=>x(d[0])).y(d=>y(d[1])).curve(o.curve)(pts))
        .attr("fill","none").attr("stroke",l.hues[i%l.hues.length]).attr("stroke-width",o.lw).attr("opacity",l.op);
    });
  });
  const grid=g.append("g").attr("stroke","#aaa").attr("opacity",.85);
  o.vg.forEach(v=>grid.append("path").attr("d",d3.line()([[x(v),o.y0],[x(v),o.y1]])).attr("stroke-width",1.2));
  o.hg.forEach(v=>grid.append("path").attr("d",d3.line()([[o.x0,y(v)],[o.x1,y(v)]])).attr("stroke-width",1.2));
  frame(g,o.x0,o.y0,o.x1,o.y1);
  axes(g,x,y,[0,50,100,150],o.yt,o.y1,o.x0,{ts:4,xp:9,yp:6,fs:18,xf:d3.format("d"),yf:o.yf});
  txt(368,o.y1+39,"Length",{size:18,anchor:"middle"});
}
const xGrid=[0,25,50,75,100,125,150];
curvePlot({x0:201,y0:67,x1:535,y1:251,xr:[216,522.7],yd:[.2,1],yr:[242.3,75],yt:[.2,.4,.6,.8,1],yf:d3.format(".1f"),
  curve:d3.curveMonotoneX,lw:1.2,vg:xGrid,hg:[.2,.3,.4,.5,.6,.7,.8,.9,1],
  layers:[{top:qfrCoreTop,low:qfrCoreLow,color:"#d98bd8",op:.4},
    {data:qfrRight,hues:warmHues,op:.9},
    {top:qfrPinkTop,low:qfrPinkLow,color:"url(#fadePink)",op:1},
    {data:qfrCurves,hues:dropHues,op:.85}]});
curvePlot({x0:201,y0:329,x1:535,y1:513.7,xr:[216,522.7],yd:[2,6],yr:[456.7,331],yt:[2,4,6],yf:d3.format("d"),
  curve:d3.curveCatmullRom,lw:1.1,vg:xGrid,hg:[1,2,3,4,5,6],
  layers:[{data:diaOutliers,hues:outlierHues,op:.95},
    {top:diaPurpleTop,low:diaPurpleLow,color:"#d473e2",op:.95},
    {top:diaPinkTop,low:diaPinkLow,color:"#f66c9f",op:.92},
    {data:diaMid,hues:midHues,op:.75},
    {data:diaEdges,hues:edgeHues,op:.9},
    {data:diaBlob,hues:pinkHues,op:.95},
    {data:diaSpeck,hues:speckHues,op:.7}]});
// ROC panels
function roc(o){
  const g=svg.append("g");
  g.append("rect").attr("x",o.x0).attr("y",o.y0).attr("width",o.x1-o.x0).attr("height",o.y1-o.y0).attr("fill","#fff");
  const x=d3.scaleLinear().domain([0,1]).range(o.xr), y=d3.scaleLinear().domain([0,1]).range(o.yr);
  [0,.125,.25,.375,.5,.625,.75,.875,1].forEach((v,i)=>{
    const w=i%2?.8:1.3;
    g.append("path").attr("d",d3.line()([[x(v),o.y0],[x(v),o.y1]])).attr("stroke","#ededed").attr("stroke-width",w);
    g.append("path").attr("d",d3.line()([[o.x0,y(v)],[o.x1,y(v)]])).attr("stroke","#ededed").attr("stroke-width",w);
  });
  g.append("rect").attr("x",x(o.patch[0])).attr("y",y(o.patch[1])).attr("width",o.x1-x(o.patch[0])-1).attr("height",o.y1-y(o.patch[1])-1).attr("fill","#fff");
  g.append("path").attr("d",d3.line()([[x(0),y(0)],[x(1),y(1)]])).attr("stroke","#aaa").attr("stroke-width",1.1).attr("stroke-dasharray","3 2");
  o.lines.forEach(l=>g.append("path").attr("d",d3.line().x(d=>x(d[0])).y(d=>y(d[1])).curve(d3.curveStepAfter)(l.d))
    .attr("fill","none").attr("stroke",l.c).attr("stroke-width",l.w||1.2).attr("opacity",l.op||.9));
  frame(g,o.x0,o.y0,o.x1,o.y1,1.7);
  axes(g,x,y,rocTicks,rocTicks,o.y1,o.x0,{ts:3,xp:o.xp,yp:o.yp,fs:13.5,xf:d3.format(".2f"),yf:d3.format(".2f")});
  txt(579,o.sy,"Sensitivity",{size:18,len:76});
  txt(850,o.by,"1-specificity",{size:o.bs||18.5,anchor:"middle",len:90});
}
roc({x0:695,y0:96,x1:1008,y1:235,xr:[708.5,993.4],yr:[230,102.3],patch:[.315,.27],xp:4,yp:6,sy:171,by:272,
  lines:[{d:roc1Fr,c:"#F8766D"},{d:roc1Pp,c:"#00BFC4"}]});
roc({x0:699,y0:328,x1:1004,y1:478,xr:[711.4,993.4],yr:[473,334],patch:[.3,.27],xp:10.5,yp:2.6,sy:412,by:521,bs:17,
  lines:[{d:roc2Fr,c:"#F8766D",w:1.4},{d:roc2Pp,c:"#00BFC4",w:2}]});
roc({x0:704,y0:575.7,x1:1000,y1:705,xr:[717,986],yr:[699,580],patch:[.36,.53],xp:11,yp:6,sy:646,by:748,
  lines:[{d:roc3Di,c:"#F8766D",op:.7},{d:roc3Fo,c:"#3cb44b",op:.75},{d:roc3Ot,c:"#6f9fe0",op:.8}]});
function rocLegend(y,c,a,b){
  svg.append("rect").attr("x",1022).attr("y",y+.5).attr("width",12).attr("height",3.5).attr("fill",c);
  txt(1040,y+6,a,{size:18});
  const t=txt(1040,y+30,"(",{size:18});
  t.append("tspan").style("font-style","italic").text("P");
  t.append("tspan").text(b);
}
const RD="#b2182b",BL="#1fb4e3",GR="#95c11f";
rocLegend(129,RD,"μFR-model AUC: 0.82"," <0.01)");
rocLegend(212,BL,"PPGi-model AUC: 0.90"," <0.01)");
rocLegend(350,RD,"μFR-model AUC: 0.69","-value <0.01)");
rocLegend(417,BL,"PPGi-model AUC: 0.88"," <0.01)");
rocLegend(585,RD,"Diffuse AUC: 0.89"," <0.01)");
rocLegend(640,GR,"Focal AUC: 0.90"," <0.01)");
rocLegend(695,BL,"Others AUC: 0.90"," <0.01)");
// histograms
function hist(o){
  const g=svg.append("g");
  const x=d3.scaleLinear().domain(o.xd).range(o.xr), y=d3.scaleLinear().domain(o.yd).range(o.yr);
  o.vg.forEach(v=>g.append("path").attr("d",d3.line()([[x(v),o.y0],[x(v),o.y1]])).attr("stroke","#bbb").attr("stroke-width",1.3));
  o.hg.forEach(v=>g.append("path").attr("d",d3.line()([[o.x0,y(v)],[o.x1,y(v)]])).attr("stroke","#bbb").attr("stroke-width",1.3));
  const edge=i=>x(o.start+i*o.bin);
  o.lower.forEach((_,i)=>{
    const a=o.lower[i],b=o.upper[i];
    if(a) g.append("rect").attr("x",edge(i)).attr("width",edge(i+1)-edge(i)-.4).attr("y",y(a)).attr("height",y(0)-y(a)).attr("fill",o.lc);
    if(b) g.append("rect").attr("x",edge(i)).attr("width",edge(i+1)-edge(i)-.4).attr("y",y(a+b)).attr("height",y(a)-y(a+b)).attr("fill",o.uc);
  });
  g.append("path").attr("d",d3.line()([[edge(0),y(0)],[edge(o.lower.length),y(0)]])).attr("stroke","#111").attr("stroke-width",1.4);
  g.append("path").attr("d",d3.line()([[x(cutOff),o.y0],[x(cutOff),o.y1]])).attr("stroke","#c1272d").attr("stroke-width",2.4).attr("stroke-dasharray","2.2 2");
  frame(g,o.x0,o.y0,o.x1,o.y1,1.4);
  axes(g,x,y,o.xt,o.yt,o.y1,o.x0,{ts:3,xp:7,yp:6,fs:18,xf:d3.format(".1f"),yf:d3.format("d")});
  txt(o.lx,939+o.ldy,"Number",{size:18,anchor:"end",len:66});txt(o.lx,963+o.ldy,"of vessels",{size:18,anchor:"end",len:73});
  txt(o.tx,1083,"PPGi",{size:18,anchor:"middle"});
}
hist({x0:205,y0:865,x1:389.7,y1:1039,xd:[.5,.9],xr:[232.7,358.7],yd:[0,6],yr:[1031.7,873],start:.4376,bin:.01767,
  lower:hist1Focal,upper:hist1Diffuse,lc:BL,uc:GR,vg:[.45,.5,.55,.6,.65,.7,.75,.8,.85,.9,.95],hg:[0,1,2,3,4,5,6],xt:[.5,.6,.7,.8,.9],yt:[0,2,4,6],lx:171,ldy:6,tx:301});
hist({x0:840,y0:865,x1:1016.7,y1:1039,xd:[.4,1],xr:[843.3,1015],yd:[0,4],yr:[1033.3,873.3],start:.42,bin:.01865,
  lower:hist2Other,upper:hist2Focal,lc:GR,uc:BL,vg:[.4,.5,.6,.7,.8,.9,1],hg:[0,.5,1,1.5,2,2.5,3,3.5,4],xt:[.4,.6,.8,1],yt:[0,1,2,3,4],lx:809,ldy:7,tx:925});
function histLegend(x,items,ys,stats,sy,tx,oy){
  txt(x,oy,"Outcome",{size:18.5}).style("stroke","#1c1c1c").style("stroke-width",.3);
  items.forEach((it,i)=>{
    svg.append("circle").attr("cx",tx-13.5).attr("cy",ys[i]-6).attr("r",3.2).attr("fill",it[1]);
    txt(tx,ys[i],it[0],{size:18.5});
  });
  stats.forEach((s,i)=>txt(x,sy[i],s,{size:18}));
}
histLegend(427,[["Diffuse",GR],["Focal",BL]],[918,945],["Acc: 64%","Sen: 50%","Spe: 94%"],[974,1000,1027],447,892);
histLegend(1053,[["Focal",BL],["Non-focal",GR]],[919,946],["Acc: 73%","Sen: 48%","Spe: 96%"],[971,998,1025],1070,893);
</script></body></html>
